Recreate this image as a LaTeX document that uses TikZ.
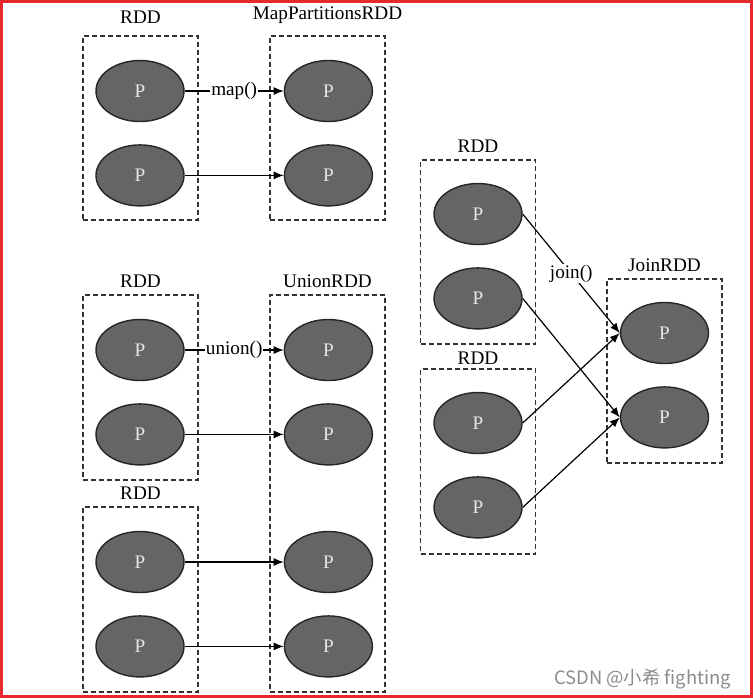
\documentclass[tikz,border=0pt]{standalone}
\usepackage{fontspec}
\setmainfont{Liberation Serif}
\newfontfamily\cjk{Noto Sans CJK SC}
\usepackage{tikz}
\usetikzlibrary{shapes,arrows,positioning,calc,arrows.meta}
\definecolor{pfill}{HTML}{656565}
\definecolor{framered}{HTML}{E8282D}

\begin{document}
\begin{tikzpicture}[x=0.5pt, y=-0.5pt, node distance=11pt, font=\fontsize{9.6}{11.5}\selectfont,
    part/.style={ellipse, draw=black!85, line width=0.7pt, fill=pfill, text=black!10, minimum width=44pt, minimum height=30.5pt, inner sep=0pt},
    rddbox/.style={draw=black!80, dash pattern=on 2.5pt off 1.5pt, line width=0.55pt, minimum width=57.5pt, inner sep=0pt},
    conn/.style={-{Latex[length=5pt,width=4pt]}, line width=0.6pt},
    op/.style={fill=white, inner sep=0.5pt}]
    \useasboundingbox (0,0) rectangle (753,698);
    \draw[framered, line width=1.5pt] (1.5,1.5) rectangle (751.5,696.5);

    \node[rddbox, minimum height=92pt, label={[label distance=2.5pt]above:RDD}] (rdda) at (140.5,128) {};
    \node[rddbox, minimum height=92pt, label={[label distance=2.5pt]above:MapPartitionsRDD}] (mapb) at (327.5,128) {};
    \node[rddbox, minimum height=92.5pt, label=above:RDD] (rddb) at (140.5,387.5) {};
    \node[rddbox, minimum height=198.5pt, label=above:UnionRDD] (unionb) at (327.5,493.5) {};
    \node[rddbox, minimum height=92.5pt, label=above:RDD] (rddc) at (140.5,599.5) {};
    \node[rddbox, minimum height=92pt, label=above:RDD] (rddd) at (478,252) {};
    \node[rddbox, minimum height=92.5pt, label={[label distance=-1.5pt]above:RDD}] (rdde) at (478,461.5) {};
    \node[rddbox, minimum height=92pt, label=above:JoinRDD] (joinb) at (664.5,371) {};

    \node[part] (a1) at (140,91) {P};
    \node[part, below=of a1] (a2) {P};
    \node[part, right=49.5pt of a1] (m1) {P};
    \node[part, right=49.5pt of a2] (m2) {P};

    \node[part] (b1) at (140,350) {P};
    \node[part, below=of b1] (b2) {P};
    \node[part] (c1) at (140,562) {P};
    \node[part, below=of c1] (c2) {P};
    \node[part, right=49.5pt of b1] (u1) {P};
    \node[part, right=49.5pt of b2] (u2) {P};
    \node[part, right=49.5pt of c1] (u3) {P};
    \node[part, right=49.5pt of c2] (u4) {P};

    \node[part] (d1) at (478,214) {P};
    \node[part, below=of d1] (d2) {P};
    \node[part] (e1) at (478,423) {P};
    \node[part, below=of e1] (e2) {P};
    \node[part] (j1) at (664.5,333) {P};
    \node[part, below=of j1] (j2) {P};

    \draw[conn] (a1) -- node[op] {map()} (m1);
    \draw[conn] (a2) -- (m2);
    \draw[conn] (b1) -- node[op] {union()} (u1);
    \draw[conn] (b2) -- (u2);
    \draw[conn] (c1) -- (u3);
    \draw[conn] (c2) -- (u4);
    \draw[conn] (d1.east) -- node[op] {join()} (j1.west);
    \draw[conn] (d2.east) -- (j2.west);
    \draw[conn] (e1.east) -- (j1.west);
    \draw[conn] (e2.east) -- (j2.west);

    \node[text=black!45, font=\cjk\fontsize{9.2}{10}\selectfont, anchor=east] (mark) at (738,679) {CSDN @小希 fighting};
\end{tikzpicture}
\end{document}
